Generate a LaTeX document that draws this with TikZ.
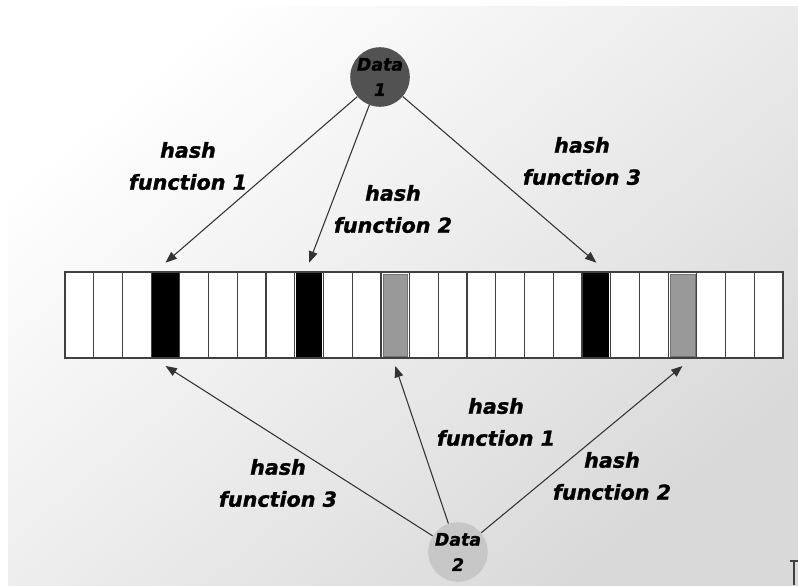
\documentclass[tikz,border=0pt]{standalone}
\usepackage{fontspec}
\newfontfamily\hashfont{DejaVu Sans Bold Oblique}[FakeBold=1.2]
\usetikzlibrary{arrows.meta}

\begin{document}
\begin{tikzpicture}[x=0.75pt,y=-0.75pt,
    cell/.style={draw=black!75,fill=white,line width=0.9pt,minimum width=21.54pt,minimum height=64.5pt,inner sep=0pt,outer sep=0pt},
    data/.style={circle,minimum size=42pt,inner sep=0pt,font=\hashfont\fontsize{13}{19}\selectfont,align=center},
    hashlabel/.style={font=\hashfont\fontsize{15.5}{24}\selectfont,align=center},
    hasharrow/.style={draw=black!80,line width=0.8pt,-{Triangle[length=8.5pt,width=6.5pt]}}]
            \useasboundingbox (0,0) rectangle (798,585);
            \shade[top color=white,bottom color=black!15,shading angle=40] (8,7) rectangle (798,585);
            % the bit array
            \foreach \i in {0,...,24}
                \node[cell] (c\i) at ({79.36+28.72*\i},315) {};
            \foreach \i in {3,8,18}
                \fill[black] ([shift={(1pt,-1pt)}]c\i.north west) rectangle ([shift={(-1pt,1pt)}]c\i.south east);
            \foreach \i in {11,21}
                \draw[fill=black!40,draw=black!55] ([shift={(1.5pt,-1.5pt)}]c\i.north west) rectangle ([shift={(-1.5pt,1.5pt)}]c\i.south east);
            \node[data,fill=black!68] (d1) at (380,77) {Data\\1};
            \node[data,fill=black!22] (d2) at (458,552) {Data\\2};
            \draw[hasharrow] (d1) -- ([yshift=7pt]c3.north);
            \draw[hasharrow] (d1) -- ([yshift=7pt]c8.north);
            \draw[hasharrow] (d1) -- ([yshift=7pt]c18.north);
            \draw[hasharrow] (d2) -- ([yshift=-6pt]c3.south);
            \draw[hasharrow] (d2) -- ([yshift=-6pt]c11.south);
            \draw[hasharrow] (d2) -- ([yshift=-6pt]c21.south);
            \node[hashlabel] (fa) at (188,166) {hash\\function 1};
            \node[hashlabel] (fb) at (393,209) {hash\\function 2};
            \node[hashlabel] (fc) at (582,161) {hash\\function 3};
            \node[hashlabel] (fd) at (496,422) {hash\\function 1};
            \node[hashlabel] (fe) at (278,483) {hash\\function 3};
            \node[hashlabel] (ff) at (612,476) {hash\\function 2};
            \draw[black!75,line width=1.2pt] (790,561) -- (798,561) (794,561) -- (794,585);
        \end{tikzpicture}
\end{document}
